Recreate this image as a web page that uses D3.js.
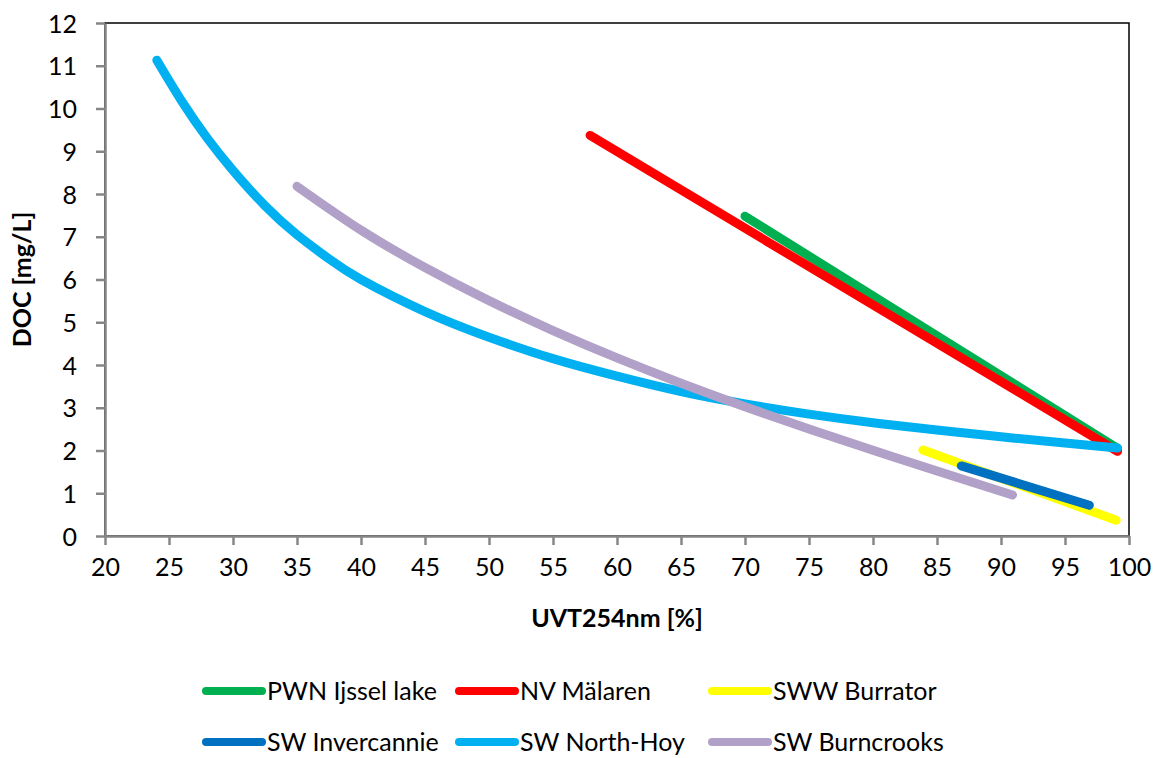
<!DOCTYPE html>
<html>
<head>
<meta charset="utf-8">
<script src="https://cdn.jsdelivr.net/npm/d3@7"></script>
<style>
  body { margin: 0; background: #fff; }
  text { font-family: Lato, "Open Sans", sans-serif; fill: #000; }
</style>
</head>
<body>
<script>
// series: [UVT254nm %, DOC mg/L]
const names = ['PWN Ijssel lake', 'NV Mälaren', 'SWW Burrator', 'SW Invercannie', 'SW North-Hoy', 'SW Burncrooks']
const colors = ['#00B050', '#FF0000', '#FFFF00', '#0070C0', '#00B0F0', '#B1A0C7']

const pwn = [[70, 7.48], [99.1, 2.05]]
const malaren = [[57.9, 9.37], [99.1, 1.98]]
const burrator = [[83.9, 2.01], [99.0, 0.37]]
const invercannie = [[86.9, 1.64], [96.9, 0.72]]
const northHoy = [
  [24.05, 11.13], [26, 10.17], [28, 9.3], [30, 8.55], [32.5, 7.725], [35, 7.045], [37.5, 6.48],
  [40, 6.0], [45, 5.25], [50, 4.65], [55, 4.15], [60, 3.74], [65, 3.38], [70, 3.09], [75, 2.85],
  [80, 2.65], [85, 2.48], [90, 2.32], [95, 2.175], [99.1, 2.06]
]
const burncrooks = [
  [35, 8.18], [40, 7.155], [45, 6.28], [50, 5.505], [55, 4.805], [60, 4.165], [65, 3.575],
  [70, 3.025], [75, 2.505], [80, 2.005], [85, 1.52], [90.9, 0.96]
]
const allSeries = [pwn, malaren, burrator, invercannie, northHoy, burncrooks]

const xTicks = d3.range(20, 101, 5)
const yTicks = d3.range(0, 13, 1)

const W = 1159, H = 758
const plot = { left: 105, top: 23, right: 1129, bottom: 536 }

const svg = d3.select('body').append('svg')
  .attr('width', W)
  .attr('height', H)

const x = d3.scaleLinear().domain([20, 100]).range([plot.left, plot.right])
const y = d3.scaleLinear().domain([0, 12]).range([plot.bottom, plot.top])

// plot area frame (top/right show black)
svg.append('rect')
  .attr('x', plot.left).attr('y', plot.top)
  .attr('width', plot.right - plot.left).attr('height', plot.bottom - plot.top)
  .attr('fill', 'none')
  .attr('stroke', '#000')
  .attr('stroke-width', 1.5)

const line = d3.line()
  .x(d => x(d[0]))
  .y(d => y(d[1]))
  .curve(d3.curveNatural)

svg.selectAll('path.series')
  .data(allSeries)
  .enter()
  .append('path')
  .attr('class', 'series')
  .attr('d', line)
  .attr('fill', 'none')
  .attr('stroke', (d, i) => colors[i])
  .attr('stroke-width', 9)
  .attr('stroke-linecap', 'round')
  .attr('stroke-linejoin', 'round')

// axes
const xAxis = svg.append('g')
  .attr('transform', `translate(0,${plot.bottom})`)
  .call(d3.axisBottom(x).tickValues(xTicks).tickSize(9).tickPadding(13).tickSizeOuter(0))
const yAxis = svg.append('g')
  .attr('transform', `translate(${plot.left},0)`)
  .call(d3.axisLeft(y).tickValues(yTicks).tickSize(9).tickPadding(19).tickSizeOuter(0))

;[xAxis, yAxis].forEach(g => {
  g.select('.domain').attr('stroke', '#868686').attr('stroke-width', 2.5)
  g.selectAll('.tick line').attr('stroke', '#868686').attr('stroke-width', 2.5)
  g.selectAll('.tick text')
    .attr('fill', '#000')
    .style('font-family', 'Lato, sans-serif')
    .style('font-size', '25px')
})
yAxis.selectAll('.tick text').attr('dy', '0.36em')

// axis titles
svg.append('text')
  .attr('x', (plot.left + plot.right) / 2)
  .attr('y', 627)
  .attr('text-anchor', 'middle')
  .style('font-size', '25px')
  .style('font-weight', 'bold')
  .text('UVT254nm [%]')

svg.append('text')
  .attr('transform', `translate(31,${(plot.top + plot.bottom) / 2}) rotate(-90)`)
  .attr('text-anchor', 'middle')
  .style('font-size', '25px')
  .style('font-weight', 'bold')
  .text('DOC [mg/L]')

// legend, 3 columns x 2 rows
const legend = svg.append('g')
const leg = legend.selectAll('g')
  .data(names)
  .enter()
  .append('g')
  .attr('transform', (d, i) => `translate(${206 + (i % 3) * 253},${691 + Math.floor(i / 3) * 51})`)

leg.append('line')
  .attr('x1', 0).attr('x2', 56)
  .attr('y1', 0).attr('y2', 0)
  .attr('stroke', (d, i) => colors[i])
  .attr('stroke-width', 8)
  .attr('stroke-linecap', 'round')

leg.append('text')
  .attr('x', 61)
  .attr('dy', '0.36em')
  .style('font-size', '25px')
  .text(d => d)
</script>
</body>
</html>
